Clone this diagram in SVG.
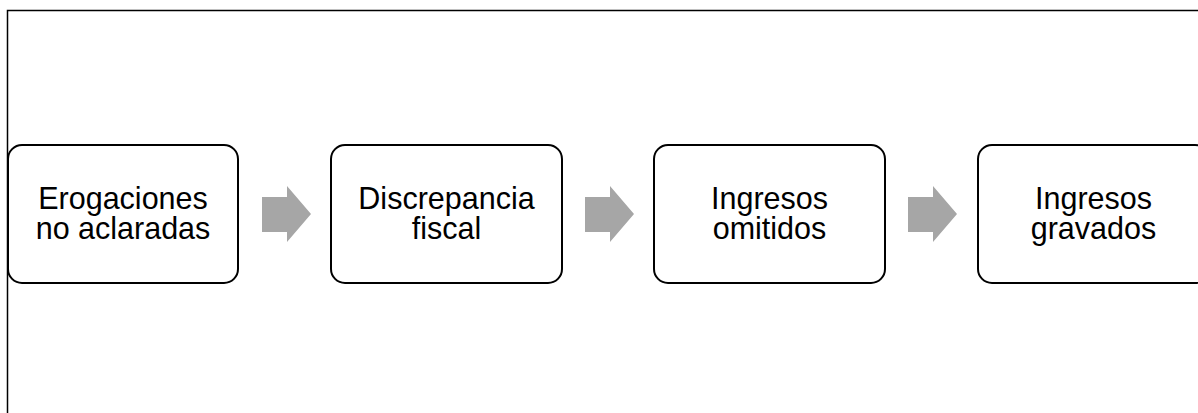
<svg xmlns="http://www.w3.org/2000/svg" width="1198" height="413" viewBox="0 0 1198 413">
  <defs>
    <style>
      .box { fill: #ffffff; stroke: #000000; stroke-width: 2; }
      .lbl { font-family: "Liberation Sans", Arial, sans-serif; font-size: 30.5px; fill: #000000; text-anchor: middle; }
      .arr { fill: #a6a6a6; }
    </style>
  </defs>
  <rect x="0" y="0" width="1198" height="413" fill="#ffffff"/>
  <rect id="frame" x="7.5" y="10.5" width="1205" height="420" fill="none" stroke="#000000" stroke-width="1.5"/>
  <g id="connectors">
    <polygon class="arr" points="262,197 287,197 287,186 311,214 287,242 287,232 262,232"/>
    <polygon class="arr" points="585,197 610,197 610,186 634,214 610,242 610,232 585,232"/>
    <polygon class="arr" points="908,197 933,197 933,186 957,214 933,242 933,232 908,232"/>
  </g>
  <g id="node1">
    <rect class="box" x="8" y="145" width="230" height="138" rx="14"/>
    <text class="lbl" x="123" y="209">Erogaciones</text>
    <text class="lbl" x="123" y="239">no aclaradas</text>
  </g>
  <g id="node2">
    <rect class="box" x="331" y="145" width="231" height="138" rx="14"/>
    <text class="lbl" x="446.5" y="209">Discrepancia</text>
    <text class="lbl" x="446.5" y="239">fiscal</text>
  </g>
  <g id="node3">
    <rect class="box" x="654" y="145" width="231" height="138" rx="14"/>
    <text class="lbl" x="769.5" y="209">Ingresos</text>
    <text class="lbl" x="769.5" y="239">omitidos</text>
  </g>
  <g id="node4">
    <rect class="box" x="978" y="145" width="231" height="138" rx="14"/>
    <text class="lbl" x="1093.5" y="209">Ingresos</text>
    <text class="lbl" x="1093.5" y="239">gravados</text>
  </g>
</svg>
